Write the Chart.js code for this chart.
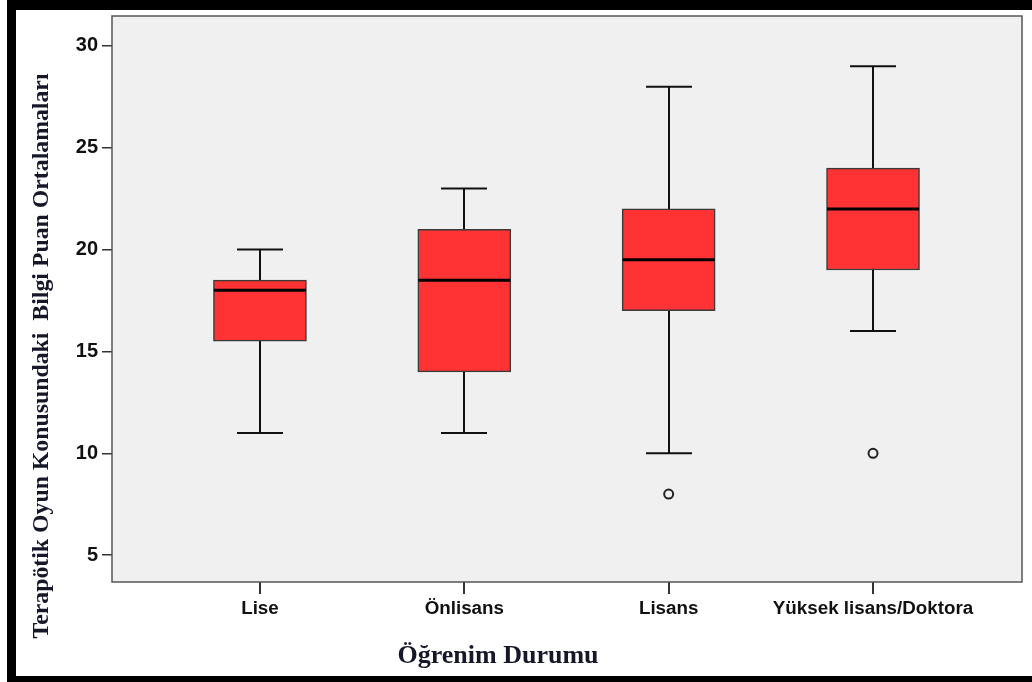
<!DOCTYPE html>
<html>
<head>
<meta charset="utf-8">
<script src="https://cdn.jsdelivr.net/npm/chart.js@4"></script>
<style>
  body { margin: 0; background: #fff; }
  #wrap { position: relative; width: 1032px; height: 682px; }
  #frame { position: absolute; left: 7px; top: 0; width: 1025px; height: 666px;
           border-left: 9px solid #000; border-top: 10px solid #000; border-bottom: 6px solid #000; box-sizing: content-box; }
  canvas { position: absolute; left: 0; top: 0; }
</style>
</head>
<body>
<div id="wrap">
  <canvas id="box" width="1032" height="682"></canvas>
  <div id="frame"></div>
</div>
<script>
const categories = ['Lise', 'Önlisans', 'Lisans', 'Yüksek lisans/Doktora'];
const whiskerLow = [11, 11, 10, 16];
const q1 = [15.5, 14, 17, 19];
const median = [18, 18.5, 19.5, 22];
const q3 = [18.5, 21, 22, 24];
const whiskerHigh = [20, 23, 28, 29];
const outlierCat = [2, 3];
const outlierVal = [8, 10];
const yTicks = [5, 10, 15, 20, 25, 30];

const boxData = categories.map((c, i) => ({ x: i, y: [q1[i], q3[i]] }));
const outlierData = outlierCat.map((c, i) => ({ x: c, y: outlierVal[i] }));

const boxPlugin = {
  id: 'boxExtras',
  beforeDraw(chart) {
    const { ctx, chartArea: a } = chart;
    ctx.save();
    ctx.fillStyle = '#f0f0f0';
    ctx.fillRect(a.left, a.top, a.right - a.left, a.bottom - a.top);
    ctx.restore();
  },
  beforeDatasetsDraw(chart) {
    const { ctx, scales: { x, y } } = chart;
    ctx.save();
    ctx.strokeStyle = '#111';
    ctx.lineWidth = 2;
    categories.forEach((c, i) => {
      const cx = Math.round(x.getPixelForValue(i));
      const half = 23;
      ctx.beginPath();
      ctx.moveTo(cx, y.getPixelForValue(whiskerHigh[i]));
      ctx.lineTo(cx, y.getPixelForValue(whiskerLow[i]));
      ctx.moveTo(cx - half, y.getPixelForValue(whiskerHigh[i]));
      ctx.lineTo(cx + half, y.getPixelForValue(whiskerHigh[i]));
      ctx.moveTo(cx - half, y.getPixelForValue(whiskerLow[i]));
      ctx.lineTo(cx + half, y.getPixelForValue(whiskerLow[i]));
      ctx.stroke();
    });
    ctx.restore();
  },
  afterDatasetsDraw(chart) {
    const { ctx, scales: { x, y }, chartArea: a } = chart;
    ctx.save();
    ctx.strokeStyle = '#000';
    ctx.lineWidth = 3;
    categories.forEach((c, i) => {
      const cx = x.getPixelForValue(i);
      const py = y.getPixelForValue(median[i]);
      ctx.beginPath();
      ctx.moveTo(cx - 46, py);
      ctx.lineTo(cx + 46, py);
      ctx.stroke();
    });
    // plot frame
    ctx.strokeStyle = '#555';
    ctx.lineWidth = 1.5;
    ctx.strokeRect(a.left, a.top, a.right - a.left, a.bottom - a.top);
    ctx.restore();
  },
  afterDraw(chart) {
    const { ctx } = chart;
    ctx.save();
    ctx.fillStyle = '#17172a';
    ctx.font = 'bold 26px "Liberation Serif"';
    ctx.textAlign = 'center';
    ctx.textBaseline = 'alphabetic';
    ctx.fillText('Öğrenim Durumu', 498, 663);
    ctx.translate(48, 356);
    ctx.rotate(-Math.PI / 2);
    ctx.font = 'bold 23.8px "Liberation Serif"';
    ctx.fillText('Terapötik Oyun Konusundaki  Bilgi Puan Ortalamaları', 0, 0);
    ctx.restore();
  }
};

new Chart(document.getElementById('box'), {
  type: 'bar',
  data: {
    datasets: [
      {
        type: 'bar',
        data: boxData,
        backgroundColor: '#ff3333',
        borderColor: '#3a3a3a',
        borderWidth: 1.5,
        borderSkipped: false,
        barThickness: 93
      },
      {
        type: 'scatter',
        data: outlierData,
        pointStyle: 'circle',
        pointRadius: 4.5,
        pointBackgroundColor: '#f0f0f0',
        pointBorderColor: '#222',
        pointBorderWidth: 2
      }
    ]
  },
  options: {
    responsive: false,
    animation: false,
    layout: { padding: { top: 14, right: 10, left: 0, bottom: 0 } },
    plugins: { legend: { display: false }, tooltip: { enabled: false } },
    scales: {
      x: {
        type: 'linear',
        offset: false,
        min: -0.724,
        max: 3.729,
        afterBuildTicks: s => { s.ticks = categories.map((c, i) => ({ value: i })); },
        afterFit: s => { s.height = 100; },
        grid: { offset: false, drawOnChartArea: false, drawTicks: true, tickLength: 12, color: '#333', lineWidth: 2 },
        border: { display: false },
        ticks: {
          callback: v => categories[v],
          color: '#111',
          font: { family: 'Liberation Sans', size: 18.8, weight: 'bold' },
          padding: 4,
          maxRotation: 0,
          autoSkip: false
        }
      },
      y: {
        min: 3.68,
        max: 31.47,
        afterBuildTicks: s => { s.ticks = yTicks.map(v => ({ value: v })); },
        afterFit: s => { s.width = 112; },
        grid: { drawOnChartArea: false, drawTicks: true, tickLength: 10, color: '#333', lineWidth: 1.5 },
        border: { display: false },
        ticks: {
          color: '#111',
          font: { family: 'Liberation Sans', size: 20, weight: 'bold' },
          padding: 4
        }
      }
    }
  },
  plugins: [boxPlugin]
});
</script>
</body>
</html>
